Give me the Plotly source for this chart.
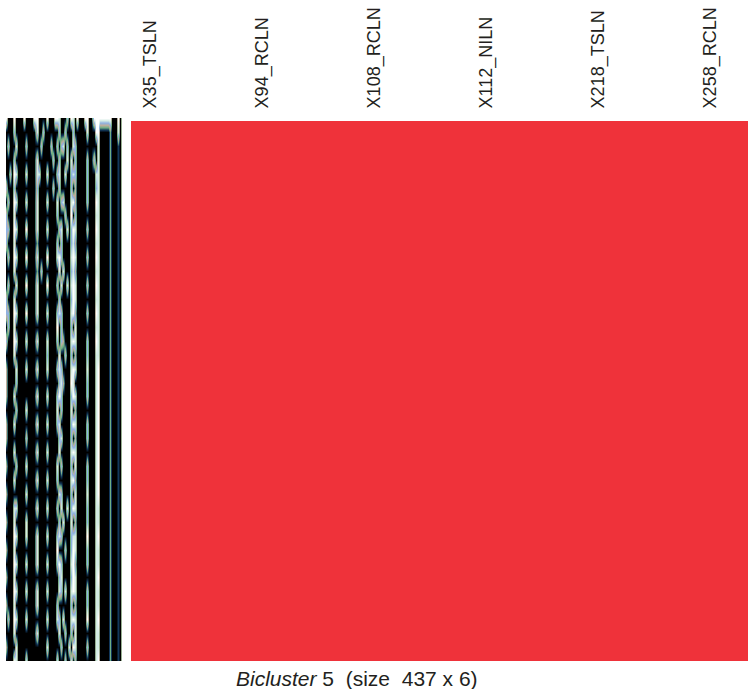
import plotly.graph_objects as go

# --- Right block: 437 rows x 6 conditions, every cell in the bicluster
conditions = ["X35_TSLN", "X94_RCLN", "X108_RCLN", "X112_NILN", "X218_TSLN", "X258_RCLN"]
label_positions = [-0.315, 0.774, 1.864, 2.953, 4.043, 5.132]
bicluster_row = [1, 1, 1, 1, 1, 1]
caption = "<i>Bicluster</i> 5\u00a0\u00a0(size\u00a0\u00a0437 x 6)"

# --- Left block: overprinted row labels, read off as vertical bands
# K black, N navy, G green, R tan, B blue, L pale, W white
label_bands = [
    "WKKK WK KKKW K KKKW W KKKK W KKKW WLK KKBK WLK WKKKW W KKW WW WWWWW W KKK W K L",
    "KKKK BK KKKK K KKKK L KKBK K KKKK KBK KBKK KBK KKKKK L KKK WW KKKKK G KKK L K L",
    "KBKK KL KKKK B KKKK K KBKK K KBKK BKB LKBK KLB KKKKK K KKK KL KKKKK G KKK N K L",
    "KKKK BK KKKK K KKKK L KKKK K KKBK KBK KKLK LKB KKKKK B KKB KL KKKKK G KKK N K L",
    "KKBK WL KKKK L KKKK L LKKK L KKKK BLK KLKK BLB KKKKK B KKK LL KKKKK G KKK N K L",
    "BKKK BK KKKK K KKKK B KKKK K KKBK KBK KKKK BKR KKKKK B KKK BL KKKKK G KKK N K L",
    "KBKK WL KKKK L KKKK L KKKK L KKKK LKB LKKK LWR KKKKK B KKK WL KKKKK G KKK N K L",
    "BKKK LK KKKK K KKKK L KKKK K KKKK BKK KBKK WKB KKKKK K KKK LL KKKKK G KKK N K L",
    "BBKK WL KKKK W KKKK L KKKK L KKKK KBL KKLK BWL KKKKK B KKK WL KKKKK G KKK N K L",
    "BKKK LK KKKK K KKKK G KKKK K KKKK BKB KKKK BLR KKKKK K KKK LL KKKKK G KKK N K L",
    "KBKK WL KKKK W KKKK L KKKK W KKKK LWB KKKK LWL KKKKK B KKK WL KKKKK G KKK N K L",
    "KKKK LK KKKK K KKKK G KBKK K KKKK KLK LKKK BLR KKKKK K KKK LL KKKKK G KKK N K L",
    "KBKK KL KKKK W KKKK L KKKK W KKKK BKL KKLK LWL KKKKK B KKK WL KKKKK G KKK N K L",
    "BKKK LK KKKK K KKKK L KKKK K KKKK KBK KKKK BWL KKKKK K KKK LL KKKKK G KKK N K L",
    "BBKK WL KKKK W KKKK L KKKK L KKKK BLB KKKK LWR KKKKK B KKK WL KKKKK G KKK N K L",
    "KBKK LK KKKK K KKKK K KKKK K KKKK WKB KKKK BKL KKKKK K KKK LL KKKKK G KKK N K L",
    "BKKK WL KKKK L KKKK L KKKK L KKKK BKB RKKK LWL KKKKK B KKK WL KKKKK G KKK N K L",
    "KKKK LK KKKK K KKKK K KKKK B KKKK KLK KBKK BKR KKKKK B KKK LL KKKKK G KKK N K L",
    "RKKK KL KKKK L KKKK L KKKK L KKKK BLB KKKK LWL KKKKK L KKK LW KKKKK G KKK N K L",
    "RKKK KB KKKK K KKKK K KKKK K KKKK KBL RKKK WLK KKKKK B KKK LW KKKKK G KKK N K L",
    "RKKK LK KKKK K KKKK L KKKK L KKKK BWB KKKK BWL KKKKK B KKK LW KKKKK G KKK N K L",
    "KKKK KB KKKK L KKKK K KKKK K KKKK LKB KKKK LKR KKKKK K KKK LW KKKKK G KKK N K L",
    "RKKK LK KKKK K KKKK L KKKK L KKKK BLK KKKK BWL KKKKK B KKK LW KKKKK G KKK N K L",
    "RKKK KK KKKK B KKKK K KKKK K KKKK KBL KKKK BKR KKKKK B KKK LW KKKKK G KKK N K L",
    "KKKK LK KKKK K KKKK L KKKK L KKKK KLK KKKK LWL KKKKK K KKK LW KKKKK G KKK N K L",
    "RKKK KB KKKK L KKKK K KKKK K KKKK LKB KKKK BKL KKKKK B KKK LW KKKKK G KKK N K L",
    "KKKK LK KKKK K KKKK L KKKK L KKKK BKK KKKK LWR KKKKK B KKK LW KKKKK G KKK N K L",
    "RKKK KK KKKK L KKKK K KKKK K KKKK KLB KKKK BKL KKKKK L KKK LW KKKKK G KKK N K L",
    "KKKK LL KKKK K KKKK L KKKK L KKKK BKL KKLK BWL KKKKK B KKK LL KKKKK G KKK N K L",
    "RKKK LK KKKK L KKKK K KKKK K KKKK KBK LKKK LKR KKKKK B KKK LL KKKKK G KKK N K L",
    "KKKK WL KKKK L KKKK L KKKK L KKKK BLB KKKK BLL KKKKK W KKK LW KKKKK G KKK N K L",
    "RKKK LK KKKK K KKKK L KKKK K KKKK WKK KBKK BWL KKKKK B KKK LL KKKKK G KKK N K L",
    "KKKK WL KKKK L KKKK L KKKK L KKKK BWB KKKK LWR KKKKK B KKK LL KKKKK G KKK N K L",
    "RKKK LK KKKK K KKKK K KKKK K KKKK KBL KKKK BWL KKKKK K KKK LW KKKKK G KKK N K L",
    "KKKK WL KKKK L KKKK L KKKK L KKKK KLB KLKK LWL KKKKK B KKK LL KKKKK G KKK N K L",
    "RKKK LK KKKK K KKKK L KKKK K KKKK BKK KKKK BKR KKKKK B KKK LL KKKKK G KKK N K L",
    "KBKK WL KKKK L KKKK K KKKK L KKKK LBK LKKK LWL KKKKK W KKK LW KKKKK G KKK N K L",
    "KKKK LK KKKK K KKKK L KKKK K KKKK KLK KBKK BKL KKKKK K KKK LL KKKKK G KKK N K L",
    "RKKK KL KKKK K KKKK K KKKK L KKKK KKB KKKL KWL KKKKK B KKK LL KKKKK G KKK N K L",
    "KKKK WL KKKK L KKKK K KKKK K KKKK LKK KBKK LKR KKKKK K KKK LW KKKKK G KKK N K L",
]
row_index = list(range(len(label_bands)))
band_codes = {"K": 0, "N": 1, "G": 2, "R": 3, "B": 4, "L": 5, "W": 6}
band_colors = ["#000000", "#12385c", "#6fae84", "#bcae9c", "#8fb2e2", "#d3ebe3", "#ffffff"]

left_z = [[band_codes[c] for c in row.replace(" ", "")] for row in label_bands]
left_x = list(range(len(left_z[0])))
left_scale = [[i / 6, col] for i, col in enumerate(band_colors)]

W, H = 748, 689
fig = go.Figure()
fig.add_trace(go.Heatmap(
    z=left_z, x=left_x, y=row_index, zmin=0, zmax=6, colorscale=left_scale,
    zsmooth="best", showscale=False, xaxis="x", yaxis="y", hoverinfo="skip",
))
fig.add_trace(go.Heatmap(
    z=[bicluster_row, bicluster_row], x=list(range(len(conditions))), y=[0, 1],
    zmin=0, zmax=1, colorscale=[[0, "#ef323a"], [1, "#ef323a"]],
    showscale=False, xaxis="x2", yaxis="y2", hoverinfo="skip",
))
fig.update_layout(
    width=W, height=H, margin=dict(l=0, r=0, t=0, b=0),
    paper_bgcolor="white", plot_bgcolor="white", showlegend=False,
    font=dict(family="Liberation Sans, Arial, sans-serif", color="#231f20"),
    xaxis=dict(domain=[6 / W, 122 / W], range=[0, len(left_x) - 1], visible=False),
    yaxis=dict(domain=[1 - 661 / H, 1 - 118 / H], range=[len(row_index) - 1, 0], visible=False),
    xaxis2=dict(
        domain=[131 / W, 1], range=[-0.5, 5.5], side="top", anchor="y2",
        tickmode="array", tickvals=label_positions, ticktext=conditions,
        tickangle=-90, tickfont=dict(size=18, color="#231f20"),
        ticks="outside", ticklen=8, tickcolor="rgba(0,0,0,0)",
        showgrid=False, zeroline=False, showline=False,
    ),
    yaxis2=dict(domain=[1 - 661 / H, 1 - 121 / H], range=[-0.5, 1.5], anchor="x2", visible=False),
    annotations=[dict(
        text=caption, xref="paper", yref="paper", x=356.5 / W, y=1 - 678 / H,
        xanchor="center", yanchor="middle", showarrow=False,
        font=dict(size=21, color="#231f20"),
    )],
)
fig.write_html(
    "out.html",
    config={"displayModeBar": False},
    post_script="document.body.style.margin='0';document.body.style.overflow='hidden';",
)
